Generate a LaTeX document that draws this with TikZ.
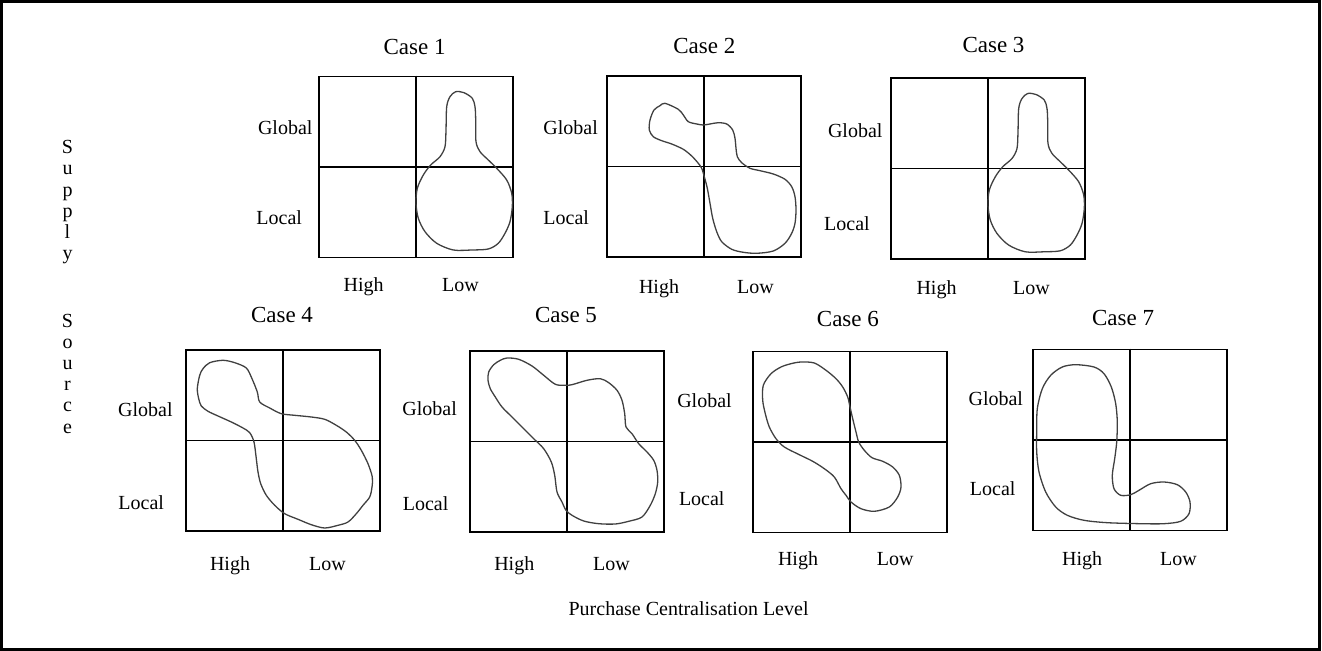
\documentclass[tikz,border=0pt]{standalone}
\usepackage{fontspec}
\setmainfont{Liberation Serif}
\usepackage{tikz}
\usetikzlibrary{positioning}
\tikzset{
  quad/.style={draw,line width=0.75pt,minimum width=97pt,minimum height=90.5pt,inner sep=0pt},
  axisline/.style={line width=0.75pt},
  blob/.style={draw=black!75,line width=0.65pt},
  ttl/.style={font=\fontsize{11.5}{13}\selectfont,inner sep=0pt},
  lbl/.style={font=\fontsize{10}{12}\selectfont,inner sep=0pt},
  vlbl/.style={font=\fontsize{10}{10.6}\selectfont,inner sep=0pt,align=center},
}

\begin{document}
\begin{tikzpicture}[x=0.5pt,y=-0.5pt]
  \useasboundingbox (0,0) rectangle (1322,651);
  \draw[line width=1.5pt] (1.5,1.5) rectangle (1319.5,649.5);

  % the seven 2x2 grids
  \foreach \n/\x/\y in {1/415.8/166.9, 2/704/166.3, 3/987.8/168.7,
                        4/282.8/440.7, 5/566.8/441.5, 6/850/442, 7/1129.8/439.8} {
    \node[quad] (c\n) at (\x,\y) {};
    \draw[axisline] (c\n.north) -- (c\n.south) (c\n.west) -- (c\n.east);
  }

  % titles
  \foreach \n/\tx/\ty in {1/414.6/46.7, 2/704.3/46, 3/993.5/45,
                          4/282/315, 5/566/315, 6/847.9/319, 7/1123.1/318}
    \node[ttl] (t\n) at (\tx,\ty) {Case \n};

  % row labels, left aligned
  \foreach \n/\gx/\gy/\lx/\ly in {1/257.6/127.7/256/217.7, 2/543/127.7/543/217.7,
                                  3/827.6/131/823.8/224, 4/117.8/409.3/118/502.7,
                                  5/402/409/402.4/503.3, 6/676.9/401/678.6/499,
                                  7/968.2/398.7/969.5/488.3} {
    \node[lbl,anchor=west] (g\n) at (\gx,\gy) {Global};
    \node[lbl,anchor=west] (l\n) at (\lx,\ly) {Local};
  }

  % column labels, on one baseline
  \foreach \n/\hx/\wx/\hy in {1/363.6/460.4/285, 2/659/755.4/287, 3/936.5/1031.5/288,
                              4/230/327.4/564.3, 5/514.3/611.5/564,
                              6/798/895.2/559, 7/1082.2/1178.4/559} {
    \node[lbl,anchor=base] (h\n) at (\hx,\hy+6.7) {High};
    \node[lbl,anchor=base] (w\n) at (\wx,\hy+6.7) {Low};
  }

  \node[lbl,anchor=west] (xlab) at (568.2,608.3) {Purchase Centralisation Level};
  \node[vlbl,anchor=north] (vsupply) at (67.5,140) {S\\u\\p\\p\\l\\y};
  \node[vlbl,anchor=north] (vsource) at (67.5,313.5) {S\\o\\u\\r\\c\\e};

  % case 1 and case 3 share the same shape
  \foreach \dx/\dy in {0/0,572/1.8}
    \draw[blob,shift={(\dx,\dy)}] plot[smooth cycle] coordinates {
      (455.7,91.7) (464,92.7) (472.3,98.3) (475,106.7) (475.7,120) (476,141.7)
      (480,151.7) (488.3,160) (496.7,168.3) (506.7,180) (511.7,193.3) (512.3,206.7)
      (510,221.7) (505,233.3) (498.3,243.3) (488.3,249) (471.7,250) (453.3,250)
      (436.7,243.3) (425,231.7) (418.3,218.3) (416,203.3) (417.3,188.3) (423.3,175)
      (430.7,165) (440,156.7) (445,146.7) (446,130) (446.7,106.7) (450,96.7)};

  % case 2
  \draw[blob] plot[smooth cycle] coordinates {
    (665,103.3) (678.3,109.3) (683.3,115) (688.3,121.7) (696.7,124) (703.3,125)
    (710,124) (718.3,122.7) (726.7,124) (732.7,130) (735,138.3) (736,148.3)
    (737.3,156.7) (741.7,162.7) (750,168.3) (760,170.7) (773.3,174) (785,179.3)
    (791.7,186.7) (795,196.7) (796,210) (795,223.3) (791.7,233.3) (785,243.3)
    (773.3,251) (756.7,253.3) (743.3,252.3) (731.7,249.3) (721.7,241.7) (716.7,231.7)
    (712.7,218.3) (710,203.3) (707.3,188.3) (704.3,176.7) (701.7,168.3) (698.3,163.3)
    (691.7,156) (683.3,149.3) (671.7,144) (661.7,140.7) (653.3,136.7) (649.3,130)
    (650,120) (654,110) (660,105.7)};

  % case 4
  \draw[blob] plot[smooth cycle] coordinates {
    (223,360.3) (234.7,362.7) (246.3,368) (252,378.7) (257.3,392) (259.7,402)
    (269.7,408) (281.3,413.7) (294.7,415.3) (311.3,417) (324.7,419.3) (336.3,425.3)
    (346.3,432) (354.7,440.3) (361.3,450.3) (368,463.7) (372.3,477) (372,487)
    (369.7,497) (363,505.3) (356.3,513.7) (348,522) (338,525.3) (324.7,528)
    (311.3,524.7) (298,519.3) (284.7,513.7) (274.7,505.3) (266.3,495.3) (260.7,483.7)
    (258,472) (256.3,458.7) (254,442) (249.7,432.7) (243,428) (231.3,422)
    (218,416) (208,411.3) (201.3,406) (198.7,398.7) (197.3,388.7) (199.7,375.3)
    (203,368.7) (209.7,362.7)};

  % case 5
  \draw[blob] plot[smooth cycle] coordinates {
    (507,358) (518.7,359.3) (532,366) (543.7,375.3) (555.3,384.3) (565.3,385.3)
    (572,384.7) (587,380.3) (600.3,378.7) (608.7,382.7) (617,390.3) (622,400.3)
    (624.7,413.7) (626,427) (632,433.7) (638.7,443.7) (647,452) (653.7,460.3)
    (657,470.3) (657.7,482) (655.3,493.7) (650.3,505.3) (642,517) (628.7,521.3)
    (615.3,524) (598.7,523.7) (583.7,521) (572,515.3) (566,510.3) (562,502)
    (557,492) (554.7,475.3) (551.3,462) (543.7,448.7) (533.7,438.7) (522,427)
    (512,417) (502,407) (495.3,397) (490.3,388.7) (488,380.3) (488.7,372)
    (493.7,364.7) (500.3,360.3)};

  % case 6
  \draw[blob] plot[smooth cycle] coordinates {
    (801,362) (814.3,363) (826,370.3) (836,378.7) (842.7,387) (847.7,397)
    (850,407) (852.7,418.7) (856,432) (858.7,442) (864.3,450.3) (872,457.7)
    (882.7,461.3) (892.7,467) (899.3,475.3) (901,487) (897.7,497) (889.3,507)
    (874.3,511.3) (861,508.7) (851,502) (846,495.3) (841,488.7) (834.3,477)
    (824.3,468.7) (812.7,461.3) (799.3,454.7) (784.3,447) (776,438.7) (769.3,427)
    (765.3,413.7) (762.7,400.3) (763.3,385.3) (771,373.7) (781,367) (791,363.7)};

  % case 7
  \draw[blob] plot[smooth cycle] coordinates {
    (1075.7,364.7) (1094,367) (1104,373.7) (1111.3,387) (1115.7,403.7) (1117.3,422)
    (1116.7,442) (1114.7,458.7) (1112.3,475.3) (1114,488.7) (1120.7,495.3) (1130.7,494.7)
    (1139,490.3) (1150.7,483.7) (1164,482) (1177.3,484.7) (1185.7,492) (1190,502)
    (1189,513.7) (1180.7,521.3) (1164,523.7) (1140.7,523.7) (1107.3,522.7) (1084,520.3)
    (1067.3,515.3) (1055.7,507) (1045.7,492) (1039,472) (1036.7,452) (1036.7,432)
    (1037.3,408.7) (1042.3,388.7) (1050.7,375.3) (1062.3,367)};
\end{tikzpicture}
\end{document}
